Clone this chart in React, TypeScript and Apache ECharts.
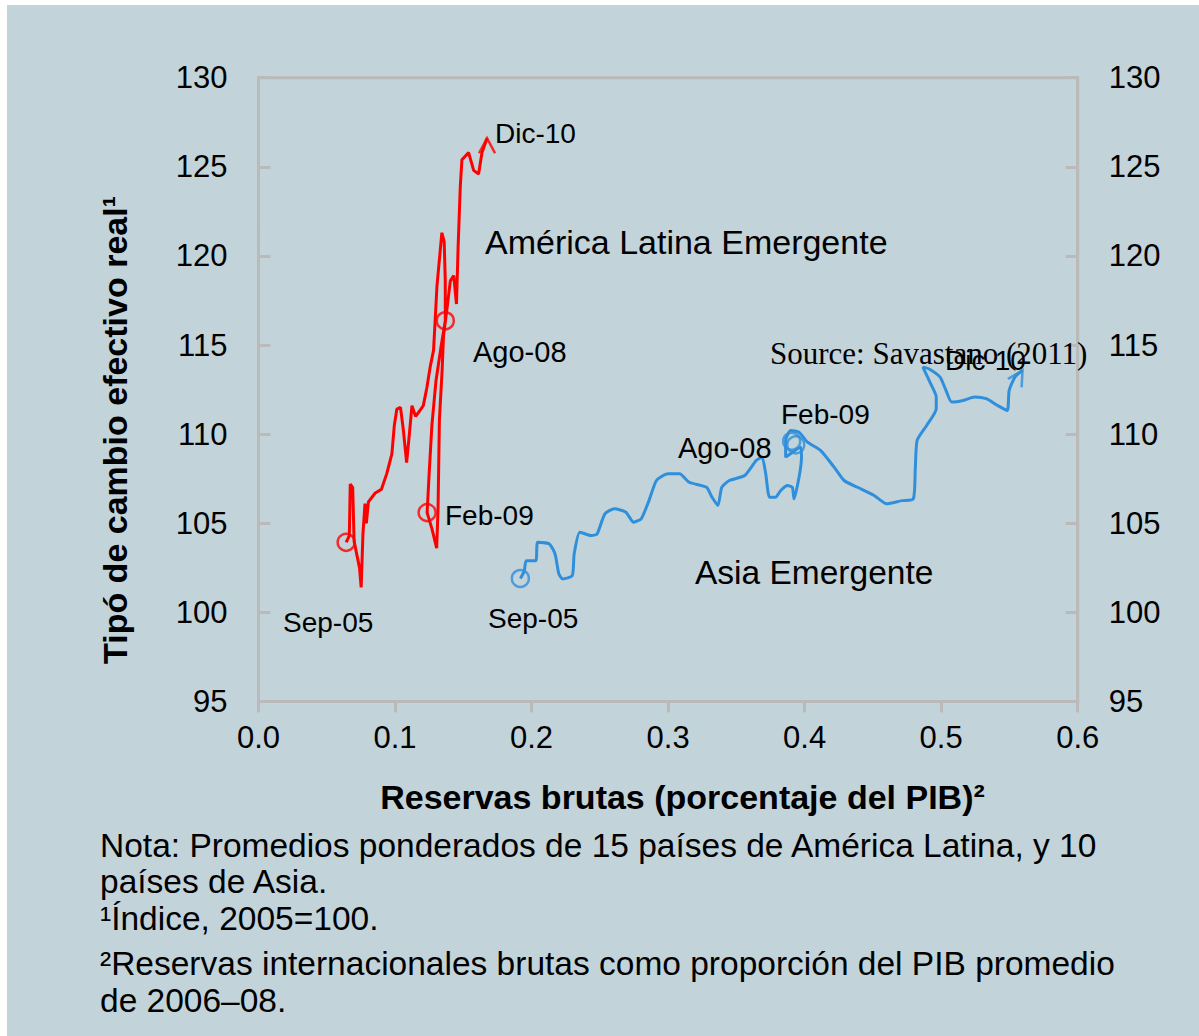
import React, { useEffect, useRef } from "react";
import * as echarts from "echarts";

// América Latina Emergente: reserves (share of GDP) vs REER index
const latamX = [0.0642, 0.0665, 0.0672, 0.069, 0.07, 0.074, 0.0752, 0.0765, 0.078, 0.079, 0.0805, 0.0855, 0.09, 0.094, 0.0977, 0.0995, 0.1013, 0.104, 0.106, 0.1085, 0.1105, 0.1124, 0.115, 0.118, 0.1207, 0.1233, 0.1258, 0.1282, 0.1294, 0.1307, 0.1343, 0.136, 0.1368, 0.1368, 0.1335, 0.13, 0.127, 0.125, 0.1235, 0.127, 0.1305, 0.1315, 0.1325, 0.1345, 0.1355, 0.138, 0.1405, 0.143, 0.145, 0.1462, 0.1478, 0.149, 0.1539, 0.1576, 0.1612, 0.1637, 0.1674];
const latamY = [103.93, 104.3, 107.2, 107.0, 104.0, 102.5, 101.4, 104.4, 106.1, 105.0, 106.2, 106.7, 106.9, 107.8, 108.9, 110.5, 111.4, 111.5, 110.3, 108.4, 110.0, 111.6, 111.0, 111.3, 111.6, 112.6, 113.8, 114.7, 116.4, 118.3, 121.3, 120.8, 118.6, 116.36, 114.8, 113.0, 110.5, 107.8, 105.6, 104.7, 103.6, 105.8, 110.8, 113.6, 115.5, 117.0, 118.6, 118.9, 117.3, 120.5, 123.9, 125.4, 125.8, 124.8, 124.6, 125.8, 126.6];

// Asia Emergente
const asiaX = [0.1918, 0.1947, 0.1961, 0.2031, 0.2045, 0.213, 0.2172, 0.22, 0.2228, 0.2298, 0.2312, 0.2354, 0.2439, 0.248, 0.2537, 0.2607, 0.2691, 0.2747, 0.2803, 0.286, 0.2915, 0.3, 0.3084, 0.3154, 0.3281, 0.3322, 0.3365, 0.3393, 0.3449, 0.3561, 0.3645, 0.3688, 0.3715, 0.3743, 0.3786, 0.3825, 0.3874, 0.391, 0.3922, 0.3959, 0.3977, 0.3971, 0.3861, 0.3861, 0.3898, 0.3959, 0.4021, 0.4118, 0.4216, 0.4289, 0.4387, 0.4509, 0.46, 0.4712, 0.4796, 0.481, 0.4824, 0.4894, 0.4964, 0.4964, 0.4923, 0.4866, 0.4909, 0.4992, 0.5035, 0.5077, 0.5161, 0.5245, 0.533, 0.5413, 0.5484, 0.5498, 0.554, 0.5596];
const asiaY = [101.9, 102.34, 102.9, 102.9, 103.93, 103.84, 103.28, 102.16, 101.88, 102.06, 103.28, 104.5, 104.31, 104.4, 105.53, 105.81, 105.62, 105.06, 105.25, 106.27, 107.4, 107.78, 107.78, 107.3, 107.02, 106.46, 106.0, 107.02, 107.4, 107.68, 108.52, 108.71, 107.78, 106.46, 106.46, 106.84, 107.12, 107.02, 106.37, 107.58, 108.71, 109.27, 108.71, 109.65, 110.21, 110.11, 109.55, 109.08, 108.15, 107.4, 107.02, 106.56, 106.09, 106.27, 106.37, 107.96, 109.65, 110.49, 111.43, 112.08, 112.83, 113.76, 113.67, 113.2, 112.46, 111.8, 111.89, 112.08, 111.99, 111.61, 111.33, 112.46, 113.2, 113.58];

// Marked dates (circles)
const latamMarkX = [0.0642, 0.1368, 0.1235];
const latamMarkY = [103.93, 116.36, 105.6];
const asiaMarkX = [0.1918, 0.3905, 0.3935];
const asiaMarkY = [101.9, 109.6, 109.4];

const yTickMin = 95;
const yTickMax = 130;
const yTickStep = 5;
const xTickMin = 0;
const xTickMax = 0.6;
const xTickStep = 0.1;

const RED = "#ff0000";
const BLUE = "#2f8fdb";
const AXIS = "#bababa";
const SANS = '"Liberation Sans", Arial, sans-serif';

const noteLines = [
  "Nota: Promedios ponderados de 15 países de América Latina, y 10",
  "países de Asia.",
  "¹Índice, 2005=100.",
  "²Reservas internacionales brutas como proporción del PIB promedio",
  "de 2006–08.",
];
const noteLineY = [845, 881, 918, 963, 1000];

const zip = (xs: number[], ys: number[]) => xs.map((x, i) => [x, ys[i]]);

const arrowPath = "path://M0,14 L7,0 L14,14";

function txt(text: string, x: number, y: number, size: number, extra: any = {}) {
  return {
    type: "text",
    x,
    y,
    silent: true,
    z: 10,
    style: {
      text,
      font: `${size}px ${SANS}`,
      fill: "#000",
      textAlign: "left",
      textVerticalAlign: "middle",
      ...extra,
    },
  };
}

export default function App() {
  const ref = useRef<HTMLDivElement>(null);
  useEffect(() => {
    if (!ref.current) return;
    const chart = echarts.init(ref.current, undefined, { renderer: "svg" });
    const yAxisCommon = {
      type: "value",
      min: yTickMin,
      max: yTickMax,
      interval: yTickStep,
      axisLine: { show: true, lineStyle: { color: AXIS, width: 3 } },
      axisTick: { show: true, inside: true, length: 12, lineStyle: { color: AXIS, width: 3 } },
      splitLine: { show: false },
      axisLabel: { fontSize: 31, color: "#000", fontFamily: SANS, margin: 31 },
    };
    const option: any = {
      animation: false,
      backgroundColor: "transparent",
      grid: {
        left: 258.5,
        top: 77.7,
        right: 121.3,
        bottom: 334.5,
        show: true,
        borderColor: AXIS,
        borderWidth: 3,
        containLabel: false,
      },
      xAxis: {
        type: "value",
        min: xTickMin,
        max: xTickMax,
        interval: xTickStep,
        axisLine: { show: true, onZero: false, lineStyle: { color: AXIS, width: 3 } },
        axisTick: { show: true, inside: false, length: 11, lineStyle: { color: AXIS, width: 3 } },
        splitLine: { show: false },
        axisLabel: {
          fontSize: 31,
          color: "#000",
          fontFamily: SANS,
          margin: 20,
          formatter: (v: number) => v.toFixed(1),
        },
      },
      yAxis: [
        { ...yAxisCommon, position: "left" },
        { ...yAxisCommon, position: "right" },
      ],
      series: [
        {
          name: "América Latina Emergente",
          type: "line",
          data: zip(latamX, latamY),
          symbol: "none",
          lineStyle: { color: RED, width: 3 },
          z: 3,
        },
        {
          name: "Asia Emergente",
          type: "line",
          data: zip(asiaX, asiaY),
          symbol: "none",
          smooth: 0.2,
          lineStyle: { color: BLUE, width: 3 },
          z: 3,
        },
        {
          type: "scatter",
          data: zip(latamMarkX, latamMarkY),
          symbol: "circle",
          symbolSize: 17,
          itemStyle: { color: "none", borderColor: RED, borderWidth: 2.5 },
          z: 4,
        },
        {
          type: "scatter",
          data: zip(asiaMarkX, asiaMarkY),
          symbol: "circle",
          symbolSize: 17,
          itemStyle: { color: "none", borderColor: BLUE, borderWidth: 2.5 },
          z: 4,
        },
        {
          type: "scatter",
          data: [[latamX[latamX.length - 1], latamY[latamY.length - 1]]],
          symbol: arrowPath,
          symbolSize: [16, 15],
          symbolRotate: 0,
          symbolOffset: [0, 7.5],
          itemStyle: { color: "none", borderColor: RED, borderWidth: 2.5 },
          z: 4,
        },
        {
          type: "scatter",
          data: [[asiaX[asiaX.length - 1], asiaY[asiaY.length - 1]]],
          symbol: arrowPath,
          symbolSize: [16, 15],
          symbolRotate: -31,
          symbolOffset: [-3.9, 6.4],
          itemStyle: { color: "none", borderColor: BLUE, borderWidth: 2.5 },
          z: 4,
        },
      ],
      graphic: [
        txt("Dic-10", 495, 133, 28),
        txt("América Latina Emergente", 485, 242, 34),
        txt("Ago-08", 473, 352, 29),
        txt("Feb-09", 445, 515, 28),
        txt("Sep-05", 283, 622, 28),
        txt("Sep-05", 488, 618, 28),
        txt("Asia Emergente", 695, 572, 33.5),
        txt("Ago-08", 678, 448, 29),
        txt("Feb-09", 781, 414, 28),
        txt("Dic-10", 945, 360, 28),
        txt("Source: Savastano (2011)", 770, 353, 31, {
          font: '31px "Liberation Serif", "Times New Roman", serif',
        }),
        txt("Reservas brutas (porcentaje del PIB)²", 682.5, 797, 34, {
          font: `bold 34px ${SANS}`,
          textAlign: "center",
        }),
        {
          type: "text",
          x: 115,
          y: 430,
          rotation: Math.PI / 2,
          silent: true,
          style: {
            text: "Tipó de cambio efectivo real¹",
            font: `bold 34px ${SANS}`,
            fill: "#000",
            textAlign: "center",
            textVerticalAlign: "middle",
          },
        },
        ...noteLines.map((line, i) => txt(line, 100, noteLineY[i], 33.5)),
      ],
    };
    chart.setOption(option);
    return () => chart.dispose();
  }, []);

  return (
    <div style={{ position: "absolute", left: 0, top: 0, width: 1199, height: 1036, background: "#ffffff" }}>
      <div style={{ position: "absolute", left: 7, top: 5, width: 1192, height: 1031, background: "#c2d3da" }} />
      <div ref={ref} style={{ position: "absolute", left: 0, top: 0, width: 1199, height: 1036 }} />
    </div>
  );
}
